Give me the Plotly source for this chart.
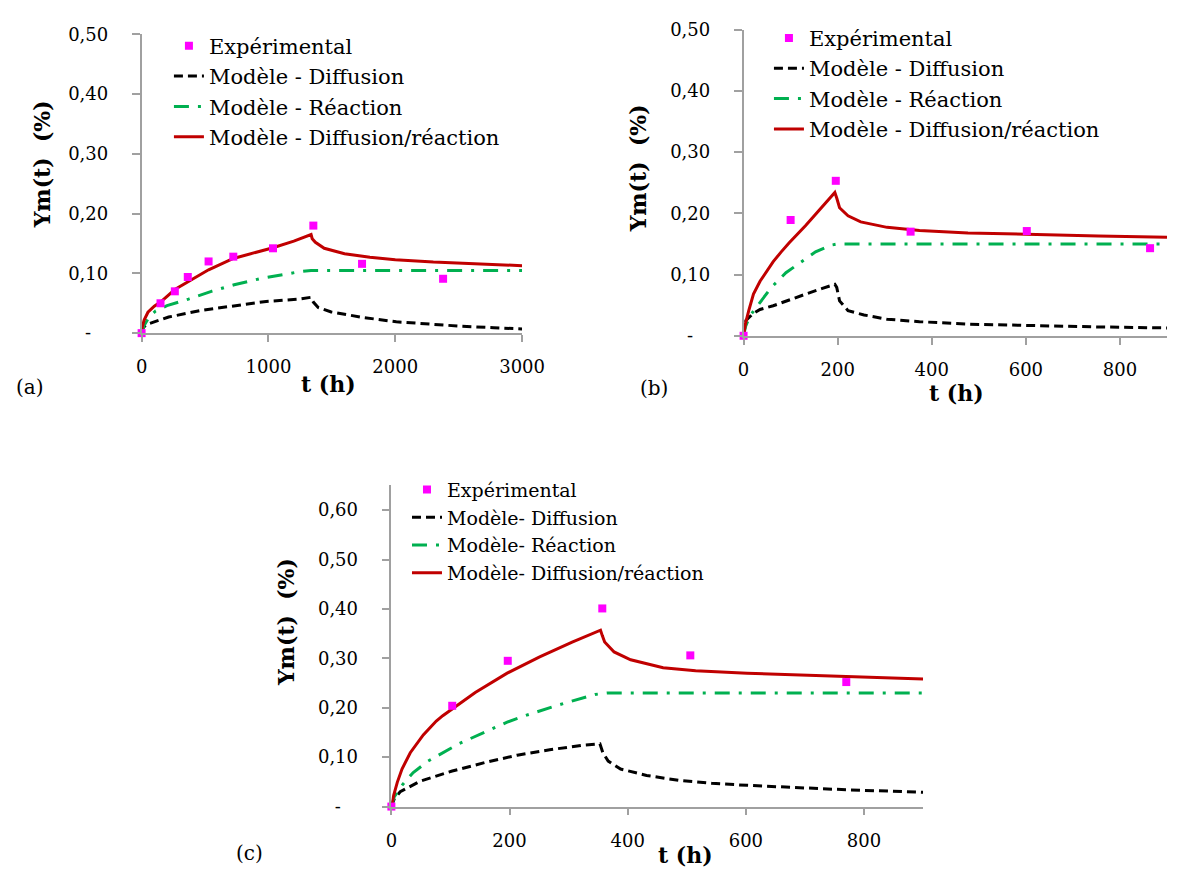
import plotly.graph_objects as go

# ---------------- data ----------------
# Panel (a)
a_exp_t = [0, 149, 262, 364, 528, 723, 1036, 1354, 1738, 2377]
a_exp_y = [0.000, 0.050, 0.070, 0.094, 0.120, 0.128, 0.142, 0.180, 0.116, 0.091]
a_dif_t = [0, 10, 33, 213, 469, 726, 982, 1238, 1336, 1354, 1392, 1495, 1751, 2008, 2264, 2521, 2777, 3000]
a_dif_y = [0, 0.008, 0.014, 0.027, 0.038, 0.046, 0.053, 0.057, 0.060, 0.052, 0.043, 0.0355, 0.026, 0.019, 0.015, 0.0115, 0.009, 0.007]
a_rea_t = [0, 20, 60, 110, 200, 370, 550, 730, 930, 1130, 1250, 1336, 3000]
a_rea_y = [0, 0.013, 0.027, 0.037, 0.046, 0.057, 0.070, 0.081, 0.091, 0.099, 0.103, 0.105, 0.105]
a_dr_t = [0, 5, 20, 50, 100, 149, 262, 364, 528, 723, 1036, 1200, 1336, 1345, 1370, 1440, 1600, 1800, 2000, 2300, 2600, 3000]
a_dr_y = [0, 0.010, 0.022, 0.035, 0.045, 0.052, 0.073, 0.086, 0.106, 0.125, 0.143, 0.154, 0.165, 0.158, 0.152, 0.142, 0.133, 0.127, 0.123, 0.119, 0.116, 0.113]

# Panel (b)
b_exp_t = [0, 100, 196, 355, 602, 864]
b_exp_y = [0, 0.189, 0.253, 0.170, 0.171, 0.143]
b_dif_t = [0, 5, 20, 35, 63, 97, 132, 166, 194, 198, 204, 222, 256, 305, 374, 477, 616, 754, 900]
b_dif_y = [0, 0.025, 0.036, 0.043, 0.049, 0.059, 0.068, 0.077, 0.084, 0.079, 0.057, 0.041, 0.034, 0.027, 0.023, 0.019, 0.0165, 0.0144, 0.0128]
b_rea_t = [0, 4, 14, 35, 59, 90, 122, 153, 186, 201, 900]
b_rea_y = [0, 0.015, 0.033, 0.055, 0.079, 0.103, 0.121, 0.137, 0.148, 0.150, 0.150]
b_dr_t = [0, 4, 11, 21, 35, 49, 63, 80, 97, 132, 166, 194, 198, 204, 222, 249, 305, 374, 477, 616, 754, 900]
b_dr_y = [0, 0.020, 0.041, 0.068, 0.089, 0.106, 0.121, 0.137, 0.152, 0.180, 0.209, 0.234, 0.225, 0.209, 0.196, 0.186, 0.177, 0.172, 0.168, 0.165, 0.163, 0.161]

# Panel (c)
c_exp_t = [0, 103, 197, 357, 506, 770]
c_exp_y = [0, 0.204, 0.295, 0.401, 0.306, 0.252]
c_dif_t = [0, 5, 15, 48, 103, 158, 213, 268, 323, 353, 358, 367, 388, 432, 487, 542, 602, 700, 770, 900]
c_dif_y = [0, 0.016, 0.030, 0.051, 0.072, 0.089, 0.104, 0.115, 0.124, 0.127, 0.109, 0.092, 0.076, 0.063, 0.053, 0.047, 0.043, 0.037, 0.034, 0.029]
c_rea_t = [0, 5, 18, 37, 62, 114, 196, 229, 284, 345, 367, 900]
c_rea_y = [0, 0.020, 0.043, 0.069, 0.092, 0.127, 0.171, 0.185, 0.206, 0.227, 0.230, 0.230]
c_dr_t = [0, 4, 10, 18, 32, 43, 54, 65, 76, 87, 103, 142, 196, 251, 306, 354, 357, 361, 377, 405, 460, 515, 602, 700, 800, 900]
c_dr_y = [0, 0.023, 0.049, 0.076, 0.109, 0.126, 0.145, 0.159, 0.173, 0.184, 0.198, 0.231, 0.270, 0.303, 0.333, 0.357, 0.346, 0.333, 0.313, 0.297, 0.281, 0.275, 0.270, 0.266, 0.262, 0.258]

names = ["Expérimental", "Modèle - Diffusion", "Modèle - Réaction", "Modèle - Diffusion/réaction"]
names_c = ["Expérimental", "Modèle- Diffusion", "Modèle- Réaction", "Modèle- Diffusion/réaction"]

y_ticks_ab = [0, 0.1, 0.2, 0.3, 0.4, 0.5]
y_ticks_c = [0, 0.1, 0.2, 0.3, 0.4, 0.5, 0.6]

# ---------------- styling ----------------
W, H = 1190, 881
FONT = "DejaVu Serif"
MAG = "#FF00FF"
BLK = "#000000"
GRN = "#00B050"
RED = "#C00000"
AXC = "#A0A0A0"

def px(x):
    return x / W

def py(y):
    return 1 - y / H

def fmt(v):
    return "-\u00a0\u00a0\u00a0" if v == 0 else f"{v:.2f}".replace(".", ",")

fig = go.Figure()

panels = [
    (a_exp_t, a_exp_y, a_dif_t, a_dif_y, a_rea_t, a_rea_y, a_dr_t, a_dr_y, "x", "y", "legend", names),
    (b_exp_t, b_exp_y, b_dif_t, b_dif_y, b_rea_t, b_rea_y, b_dr_t, b_dr_y, "x2", "y2", "legend2", names),
    (c_exp_t, c_exp_y, c_dif_t, c_dif_y, c_rea_t, c_rea_y, c_dr_t, c_dr_y, "x3", "y3", "legend3", names_c),
]

for (et, ey, dt, dy, rt, ry, drt, dry, xa, ya, lg, nm) in panels:
    fig.add_trace(go.Scatter(x=dt, y=dy, mode="lines", name=nm[1], xaxis=xa, yaxis=ya, legend=lg,
                             line=dict(color=BLK, width=3, dash="9px,5px"), legendrank=2))
    fig.add_trace(go.Scatter(x=rt, y=ry, mode="lines", name=nm[2], xaxis=xa, yaxis=ya, legend=lg,
                             line=dict(color=GRN, width=3, dash="15px,9px,3px,9px"), legendrank=3))
    fig.add_trace(go.Scatter(x=drt, y=dry, mode="lines", name=nm[3], xaxis=xa, yaxis=ya, legend=lg,
                             line=dict(color=RED, width=3), legendrank=4))
    fig.add_trace(go.Scatter(x=et, y=ey, mode="markers", name=nm[0], xaxis=xa, yaxis=ya, legend=lg,
                             marker=dict(symbol="square", size=8, color=MAG), cliponaxis=False,
                             legendrank=1))

tickfont = dict(family=FONT, size=18, color="#000000")

def xaxis(domain, rng, dtick):
    return dict(domain=domain, range=rng, dtick=dtick, tick0=0, showgrid=False, zeroline=False,
                showline=True, linecolor=AXC, linewidth=1.5, ticks="outside", ticklen=7,
                tickcolor=AXC, tickwidth=1.5, tickfont=tickfont, ticklabelstandoff=10,
                fixedrange=True)

def yaxis(domain, rng, tv):
    return dict(domain=domain, range=rng, tickvals=tv, ticktext=[fmt(v) for v in tv],
                showgrid=False, zeroline=False, showline=True, linecolor=AXC, linewidth=1.5,
                ticks="outside", ticklen=8, tickcolor=AXC, tickwidth=1.5, tickfont=tickfont,
                ticklabelstandoff=20, fixedrange=True)

fig.update_layout(
    width=W, height=H, autosize=False,
    margin=dict(l=0, r=0, t=0, b=0),
    paper_bgcolor="white", plot_bgcolor="white",
    font=dict(family=FONT, color="#000000"),
    xaxis=xaxis([px(139), px(529)], [0, 3000], 1000),
    yaxis=yaxis([py(330), py(24)], [0, 0.5], y_ticks_ab),
    xaxis2=dict(xaxis([px(756), px(1190)], [0, 900], 200), anchor="y2"),
    yaxis2=dict(yaxis([py(332.7), py(19)], [0, 0.5], y_ticks_ab), anchor="x2"),
    xaxis3=dict(xaxis([px(395), px(940)], [0, 900], 200), anchor="y3"),
    yaxis3=dict(yaxis([py(815), py(486)], [0, 0.65], y_ticks_c), anchor="x3"),
    legend=dict(x=px(167), y=py(15), xanchor="left", yanchor="top", bgcolor="rgba(0,0,0,0)",
                font=dict(family=FONT, size=21), traceorder="normal", tracegroupgap=0),
    legend2=dict(x=px(782), y=py(7), xanchor="left", yanchor="top", bgcolor="rgba(0,0,0,0)",
                 font=dict(family=FONT, size=21), traceorder="normal", tracegroupgap=0),
    legend3=dict(x=px(411), y=py(471), xanchor="left", yanchor="top", bgcolor="rgba(0,0,0,0)",
                 font=dict(family=FONT, size=19), traceorder="normal", tracegroupgap=0),
    showlegend=True,
)

def ann(text, x, y, size, bold=False, angle=0):
    t = f"<b>{text}</b>" if bold else text
    fig.add_annotation(text=t, x=px(x), y=py(y), xref="paper", yref="paper", showarrow=False,
                       xanchor="center", yanchor="middle", textangle=angle,
                       font=dict(family=FONT, size=size, color="#000000"))

# axis titles
ann("Ym(t)&nbsp;&nbsp;(%)", 37, 157, 22, bold=True, angle=-90)
ann("Ym(t)&nbsp;&nbsp;(%)", 648, 161, 22, bold=True, angle=-90)
ann("Ym(t)&nbsp;&nbsp;(%)", 287, 626, 22, bold=True, angle=-90)
ann("t (h)", 331, 382, 22, bold=True)
ann("t (h)", 974, 391, 22, bold=True)
ann("t (h)", 696, 865, 22, bold=True)
# panel labels
ann("(a)", 25, 385, 20)
ann("(b)", 664, 386, 20)
ann("(c)", 250, 863, 20)

fig.write_html("out.html",
               config={"displayModeBar": False},
               post_script="document.body.style.margin='0px';"
                           "document.body.style.overflow='hidden';")
